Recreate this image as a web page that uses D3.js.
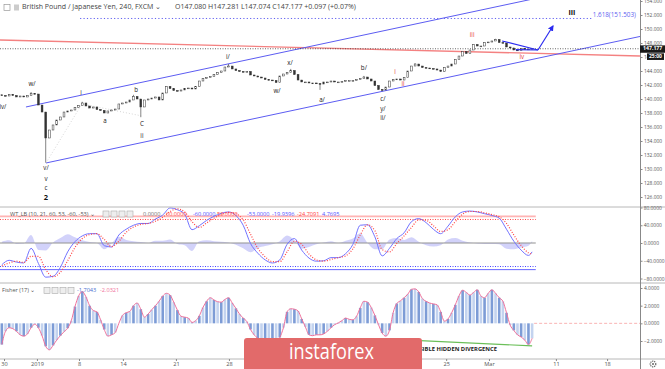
<!DOCTYPE html>
<html><head><meta charset="utf-8">
<script src="https://cdn.jsdelivr.net/npm/d3@7"></script>
<style>body{margin:0;background:#fff}svg{display:block;font-family:"Open Sans",sans-serif}</style>
</head><body><svg id="c" width="665" height="369"></svg>
<script>
// ---------- DATA ----------
const openFirst = 140.60;
const closes = [
140.50,140.43,140.67,140.50,140.29,140.43,140.29,140.53,140.79,140.71,
139.14,138.14,134.43,135.57,136.29,137.00,137.43,138.14,138.29,138.43,
138.79,139.07,139.43,139.00,138.71,138.86,138.50,138.36,138.00,138.29,
138.43,138.57,139.29,139.43,139.57,139.86,140.36,140.00,138.86,139.86,
140.00,140.14,140.29,139.86,140.86,141.79,141.50,141.21,141.14,141.29,
141.50,141.57,141.43,141.79,142.57,142.93,143.07,143.21,143.50,143.79,
144.00,144.57,144.71,144.29,144.07,143.93,143.86,143.93,143.43,143.29,
143.14,143.00,142.79,142.71,142.64,142.36,143.29,143.57,143.79,144.07,
143.50,142.71,142.43,142.43,142.29,142.29,142.21,142.14,142.43,142.43,
142.57,142.43,142.43,142.50,142.64,142.64,142.64,142.79,142.93,143.14,
142.86,142.57,141.93,141.36,141.29,141.71,142.57,142.79,142.86,142.71,
143.07,144.00,144.71,145.00,144.71,144.50,144.43,144.36,144.29,144.14,
143.93,144.50,144.71,145.00,145.64,146.14,146.79,146.50,147.00,147.79,
147.57,147.57,148.07,148.14,148.29,148.50,148.07,148.00,147.43,147.29,
147.00,146.93,147.21,147.07,147.14,147.18];
const spikeK = [12, 38, 87, 104];
const spikeLow = [130.9, 137.4, 141.3, 141.1];
const peakK = [8, 22, 36, 62, 79, 99, 113, 135];
const peakHigh = [141.0, 139.6, 140.6, 145.0, 144.3, 143.3, 145.1, 148.6];

const lastPrice = 147.177;
const fibLevel = 151.503;
const priceTicks = [126,128,130,132,134,136,138,140,142,144,146,148,150,152,154];

const wt1 = [-49,-39,-43,-45,-12,-46,-77,-75,-55,-20,
3,16,21,21,-6,-9,18,31,40,44,
44,54,63,79,75,65,30,39,51,60,
67,70,62,40,-1,-23,-38,-45,-38,-3,
10,-16,-34,-41,-40,-33,-33,-24,-3,40,
41,14,-29,-12,10,23,48,55,46,31,
21,38,59,70,72,70,66,62,56,31,
4,-16,-28,-19.94];
const wt2 = [-52,-45,-41,-44,-30,-30,-60,-76,-66,-40,
-10,10,19,21,8,-8,4,24,36,42,
44,49,58,71,77,70,48,35,45,56,
64,69,66,52,20,-12,-31,-42,-42,-20,
4,-3,-25,-38,-41,-37,-33,-29,-13,18,
41,28,-15,-20,-1,16,35,52,51,39,
26,30,48,65,71,71,68,64,59,44,
18,-6,-22,-24.71];
const wtLevels = [60, 53, -53, -60];
const wtTicks = [80,40,0,-40,-80];

const fisher = [
-2.4,-0.9,-0.5,-0.6,-0.9,-1.3,-1.45,-1.2,-0.5,-0.1,
-0.5,-1.4,-2.6,-3.0,-2.5,-1.9,-1.4,-0.95,-0.55,0.3,
1.9,3.1,3.6,3.0,2.0,1.45,1.3,0.4,-0.7,-1.45,
-1.3,-1.05,0.0,0.9,1.2,1.35,2.0,2.3,1.6,0.7,
1.05,1.55,2.0,2.5,3.1,3.4,3.2,2.4,1.5,0.8,
0.7,0.6,0.1,0.3,0.85,1.8,2.5,2.9,2.65,2.45,
2.4,2.7,2.9,2.3,1.7,1.05,0.6,0.2,-0.7,-1.3,
-1.7,-2.0,-2.2,-2.3,-2.2,-2.0,-1.6,-0.5,1.3,1.65,
1.6,1.4,0.5,-0.4,-1.3,-1.4,-1.3,-1.3,-1.2,-0.9,
-0.5,-0.15,0.05,0.3,0.6,0.45,0.4,0.8,1.75,2.5,
2.4,1.8,0.9,-0.15,-1.1,-1.45,-0.8,1.2,2.25,2.55,
2.9,3.3,3.85,3.9,3.55,2.8,2.5,2.3,2.2,2.1,
1.3,0.25,0.5,1.2,2.1,3.1,3.75,3.5,3.2,3.5,
3.8,3.1,2.9,3.4,3.8,3.4,2.9,2.5,1.2,-0.2,
-0.8,-1.3,-1.55,-1.9,-2.4,-1.70];
const fisherTicks = [4,2,0,-2];

const timeLabels = ["30","2019","8","14","21","28","25","Mar","11","18"];
const timeK = [0.6, 9.6, 21.1, 33.1, 47.6, 62.1, 121.5, 133.2, 151.5, 165.5];

// drawings (in candle index / price units)
const chanUpper = [[6.6,138.86],[150,154.82]];
const chanLower = [[12.08,130.86],[176,149.1]];
const redLine = [[-0.5,148.43],[174.5,146.14]];
const triLine = [[136.8,148.29],[146.6,147.0]];
const triLow = [[140.5,147.05],[146.6,147.0]];
const arrowLine = [[146.6,147.0],[150.7,150.43]];
const guide1 = [[12.08,130.86],[21.9,139.3],[38.1,137.6]];
const divLine = [[104.2,-1.77],[145,-2.55]];

const blackLbl = ["iv/","w/","i","a","b","C","ii","v/","v","c","i/","w/","x/","a/","b/","c/","y/","ii/"];
const blackK =   [0.3, 8.26,21.65,28.2,36.7,38.3,38.3,12.08,12.08,12.08,61.8,75.24,78.8,87.55,99.0,104.2,104.2,104.2];
const blackP =   [138.86,142.14,140.86,136.86,141.29,136.43,134.71,130.14,128.57,127.29,146.0,141.14,145.14,139.86,144.43,140.0,138.57,137.29];
const boldLbl = ["2","iii"]; const boldK = [12.08,155.9]; const boldP = [125.86,152.29];
const redLbl = ["i","ii","iii","iv"]; const redK = [107.5,109.7,128.6,142.2]; const redP = [143.86,142.14,149.14,146.0];

// ---------- SCALES ----------
const svg = d3.select("#c");
const x = d3.scaleLinear().domain([-0.5,174.5]).range([0,640]);
const yP = d3.scaleLinear().domain([126,154]).range([197,1]);
const yW = d3.scaleLinear().domain([-80,80]).range([278.5,207.5]);
const yF = d3.scaleLinear().domain([-2,4]).range([341,288]);

svg.append("rect").attr("width",665).attr("height",369).attr("fill","#fff");
const defs = svg.append("defs");
defs.append("clipPath").attr("id","cm").append("rect").attr("x",0).attr("y",0).attr("width",640).attr("height",207);
defs.append("clipPath").attr("id","cw").append("rect").attr("x",0).attr("y",207).attr("width",640).attr("height",76);
defs.append("clipPath").attr("id","cf").append("rect").attr("x",0).attr("y",283).attr("width",640).attr("height",76);
defs.append("marker").attr("id","ah").attr("viewBox","0 0 10 10").attr("refX",8).attr("refY",5)
  .attr("markerWidth",5).attr("markerHeight",5).attr("orient","auto")
  .append("path").attr("d","M0,0L10,5L0,10z").attr("fill","#2b2bf0");

const lineP = d3.line().x(d=>x(d[0])).y(d=>yP(d[1]));
const main = svg.append("g").attr("clip-path","url(#cm)");

// red line, channel
main.append("path").attr("d",lineP(redLine)).attr("stroke","#f26b6b").attr("stroke-width",1.3).attr("fill","none").attr("opacity",0.85);
main.append("path").attr("d",lineP(chanUpper)).attr("stroke","#5c5cf2").attr("stroke-width",1).attr("fill","none");
main.append("path").attr("d",lineP(chanLower)).attr("stroke","#5c5cf2").attr("stroke-width",1).attr("fill","none");
main.append("path").attr("d",lineP(guide1)).attr("stroke","#c4c4c4").attr("stroke-width",0.7).attr("stroke-dasharray","1,2").attr("fill","none");
// fib dotted
main.append("line").attr("x1",x(21.4)).attr("x2",x(161.3)).attr("y1",yP(fibLevel)).attr("y2",yP(fibLevel))
  .attr("stroke","#6060f0").attr("stroke-width",1).attr("stroke-dasharray","1.2,2.2");
main.append("text").attr("x",x(161.6)).attr("y",yP(fibLevel)-1.5).attr("font-size",6.3).attr("fill","#6060f0").text("1.618(151.503)");
// last price dotted
main.append("line").attr("x1",0).attr("x2",640).attr("y1",yP(lastPrice)).attr("y2",yP(lastPrice))
  .attr("stroke","#444").attr("stroke-width",0.8).attr("stroke-dasharray","1,1.5");

// candles
const cg = main.append("g");
closes.forEach((c,k)=>{
  const o = k ? closes[k-1] : openFirst;
  let hi = Math.max(o,c), lo = Math.min(o,c);
  const si = spikeK.indexOf(k); if (si>=0) lo = spikeLow[si];
  const pi = peakK.indexOf(k); if (pi>=0) hi = peakHigh[pi];
  const cx = x(k);
  cg.append("line").attr("x1",cx).attr("x2",cx).attr("y1",yP(hi)).attr("y2",yP(lo)).attr("stroke","#333").attr("stroke-width",0.6);
  const top = yP(Math.max(o,c)), h = Math.max(0.8, yP(Math.min(o,c))-top);
  cg.append("rect").attr("x",cx-0.9).attr("y",top).attr("width",1.8).attr("height",h)
    .attr("fill", c>=o ? "#fff" : "#333").attr("stroke","#333").attr("stroke-width",0.5);
});

// triangle + arrow
main.append("path").attr("d",lineP(triLine)).attr("stroke","#2b2bf0").attr("stroke-width",1.2).attr("fill","none");
main.append("path").attr("d",lineP(triLow)).attr("stroke","#2b2bf0").attr("stroke-width",1.2).attr("fill","none");
main.append("path").attr("d",lineP(arrowLine)).attr("stroke","#2b2bf0").attr("stroke-width",1.2).attr("fill","none").attr("marker-end","url(#ah)");

// labels
const lg = svg.append("g").attr("font-size",6.2).attr("text-anchor","middle").attr("dominant-baseline","middle");
blackLbl.forEach((t,i)=>lg.append("text").attr("x",x(blackK[i])).attr("y",yP(blackP[i])).attr("fill","#222").text(t));
boldLbl.forEach((t,i)=>lg.append("text").attr("x",x(boldK[i])).attr("y",yP(boldP[i])).attr("fill","#111").attr("font-weight","bold").attr("font-size",7.5).text(t));
redLbl.forEach((t,i)=>lg.append("text").attr("x",x(redK[i])).attr("y",yP(redP[i])).attr("fill","#e53935").text(t));

// ---------- WT pane ----------
const wtK = d3.range(0,145,2).concat([145]);
const wg = svg.append("g").attr("clip-path","url(#cw)");
const wtArea = d3.area().x((d,i)=>x(wtK[i])).y0(yW(0)).y1((d,i)=>yW(wt1[i]-wt2[i])).curve(d3.curveMonotoneX);
wg.append("path").attr("d",wtArea(wt1)).attr("fill","#7d7df0").attr("opacity",0.35);
wg.append("line").attr("x1",0).attr("x2",x(146)).attr("y1",yW(0)).attr("y2",yW(0)).attr("stroke","#999").attr("stroke-width",1.3).attr("opacity",0.7);
const lvlStyle = [["#f77",1.8,"none",0.55],["#f44",1,"1,1.5",1],["#44f",1,"1,1.5",1],["#55f",1,"none",0.9]];
wtLevels.forEach((v,i)=>{
  wg.append("line").attr("x1",0).attr("x2",x(146)).attr("y1",yW(v)).attr("y2",yW(v))
    .attr("stroke",lvlStyle[i][0]).attr("stroke-width",lvlStyle[i][1]).attr("stroke-dasharray",lvlStyle[i][2]).attr("opacity",lvlStyle[i][3]);
});
const lineW = d3.line().x((d,i)=>x(wtK[i])).y(d=>yW(d)).curve(d3.curveMonotoneX);
wg.append("path").attr("d",lineW(wt1)).attr("stroke","#7272ff").attr("stroke-width",1).attr("fill","none");
wg.append("path").attr("d",lineW(wt2)).attr("stroke","#f44").attr("stroke-width",1.2).attr("stroke-dasharray","1,1.6").attr("fill","none");

// ---------- Fisher pane ----------
const fg = svg.append("g").attr("clip-path","url(#cf)");
fisher.forEach((v,k)=>{
  const y0 = yF(0), y1 = yF(v);
  fg.append("rect").attr("x",x(k)-1.3).attr("width",2.6).attr("y",Math.min(y0,y1)).attr("height",Math.abs(y1-y0))
    .attr("fill", k%2 ? "#c3d3ef" : "#7d9cd6");
});
const lineF = d3.line().x((d,i)=>x(i)).y(d=>yF(d)).curve(d3.curveMonotoneX);
fg.append("path").attr("d",lineF(fisher)).attr("stroke","#f0709a").attr("stroke-width",1).attr("fill","none");
fg.append("line").attr("x1",x(145)+2).attr("x2",640).attr("y1",yF(0)).attr("y2",yF(0)).attr("stroke","#f7a0a0").attr("stroke-width",0.8).attr("stroke-dasharray","3,2");
fg.append("path").attr("d",d3.line().x(d=>x(d[0])).y(d=>yF(d[1]))(divLine)).attr("stroke","#6bbf59").attr("stroke-width",1.2).attr("fill","none");
svg.append("text").attr("x",x(135.4)).attr("y",yF(-2.95)).attr("text-anchor","end").attr("dominant-baseline","middle")
  .attr("font-size",5.8).attr("font-weight","bold").attr("fill","#222").text("POSSIBLE HIDDEN DIVERGENCE");

// ---------- separators & axes ----------
[207,283,359].forEach(y=>svg.append("line").attr("x1",0).attr("x2",665).attr("y1",y).attr("y2",y).attr("stroke","#b8b8b8").attr("stroke-width",1));
svg.append("line").attr("x1",640.5).attr("x2",640.5).attr("y1",0).attr("y2",369).attr("stroke","#888").attr("stroke-width",1);

function styleAxis(g){
  g.select(".domain").remove();
  g.selectAll(".tick line").attr("stroke","#888");
  g.selectAll("text").attr("fill","#555").attr("font-size",4.9).attr("font-family","Open Sans, sans-serif");
}
svg.append("g").attr("transform","translate(640.5,0)").call(d3.axisRight(yP).tickValues(priceTicks).tickFormat(d3.format(".3f")).tickSize(2).tickPadding(1.5)).call(styleAxis);
svg.append("g").attr("transform","translate(640.5,0)").call(d3.axisRight(yW).tickValues(wtTicks).tickFormat(d3.format(".4f")).tickSize(2).tickPadding(1.2)).call(styleAxis);
svg.append("g").attr("transform","translate(640.5,0)").call(d3.axisRight(yF).tickValues(fisherTicks).tickFormat(d3.format(".4f")).tickSize(2).tickPadding(1.5)).call(styleAxis);
svg.append("g").attr("transform","translate(0,359)").call(d3.axisBottom(x).tickValues(timeK).tickFormat((d,i)=>timeLabels[i]).tickSize(2).tickPadding(1.5)).call(styleAxis)
  .selectAll("text").attr("font-size",5.6);

// price labels
const py = yP(lastPrice);
svg.append("rect").attr("x",640).attr("y",py-3.4).attr("width",25).attr("height",7.4).attr("fill","#1a1a1a");
svg.append("text").attr("x",643).attr("y",py+0.3).attr("dominant-baseline","middle").attr("font-size",5.2).attr("font-weight","bold").attr("fill","#fff").text("147.177");
svg.append("rect").attr("x",647).attr("y",py+4.6).attr("width",17).attr("height",6.6).attr("fill","#1a1a1a");
svg.append("text").attr("x",649).attr("y",py+8).attr("dominant-baseline","middle").attr("font-size",5).attr("font-weight","bold").attr("fill","#fff").text("25:00");

// ---------- headers ----------
function icons(g, x0, n){ for(let i=0;i<n;i++) g.append("rect").attr("x",x0+i*8).attr("y",-3).attr("width",6).attr("height",6).attr("fill","#eee").attr("stroke","#aaa").attr("stroke-width",0.6); }
const h1 = svg.append("g").attr("transform","translate(0,7.5)").attr("font-size",7).attr("dominant-baseline","middle");
h1.append("rect").attr("x",4).attr("y",-3).attr("width",6).attr("height",6).attr("fill","none").attr("stroke","#999").attr("stroke-width",0.7);
h1.append("rect").attr("x",14).attr("y",-3).attr("width",5).attr("height",6).attr("fill","#ccc");
h1.append("text").attr("x",22).attr("fill","#444").text("British Pound / Japanese Yen, 240, FXCM ⌄");
h1.append("text").attr("x",175).attr("fill","#444").text("O147.080  H147.281  L147.074  C147.177  +0.097 (+0.07%)");

const h2 = svg.append("g").attr("transform","translate(0,214)").attr("font-size",5.6).attr("dominant-baseline","middle");
h2.append("text").attr("x",10).attr("fill","#555").text("WT_LB (10, 21, 60, 53, -60, -53) ⌄");
icons(h2,103,4);
const wtVals = ["0.0000","60.0000","-60.0000","53.0000","-53.0000","-19.9396","-24.7091","4.7695"];
const wtValX = [143,166,193,217,247,272,297,322];
const wtValC = ["#777","#f44","#55f","#f44","#55f","#55f","#f44","#55f"];
wtVals.forEach((t,i)=>h2.append("text").attr("x",wtValX[i]).attr("fill",wtValC[i]).text(t));

const h3 = svg.append("g").attr("transform","translate(0,290.5)").attr("font-size",5.6).attr("dominant-baseline","middle");
h3.append("text").attr("x",2).attr("fill","#555").text("Fisher (17) ⌄");
icons(h3,44,4);
h3.append("text").attr("x",77).attr("fill","#4a6fd0").text("-1.7043");
h3.append("text").attr("x",100).attr("fill","#f0709a").text("-2.0321");

// gear
svg.append("circle").attr("cx",653).attr("cy",364).attr("r",2.8).attr("fill","none").attr("stroke","#666").attr("stroke-width",1.2).attr("stroke-dasharray","1.2,0.8");
svg.append("circle").attr("cx",653).attr("cy",364).attr("r",1).attr("fill","#666");

// logo
svg.append("rect").attr("x",244).attr("y",338).attr("width",178).attr("height",40).attr("rx",3).attr("fill","#e26a6a");
svg.append("text").attr("x",289).attr("y",359).attr("font-size",21).attr("fill","#fff").attr("textLength",85).attr("lengthAdjust","spacingAndGlyphs").text("instaforex");
</script></body></html>
